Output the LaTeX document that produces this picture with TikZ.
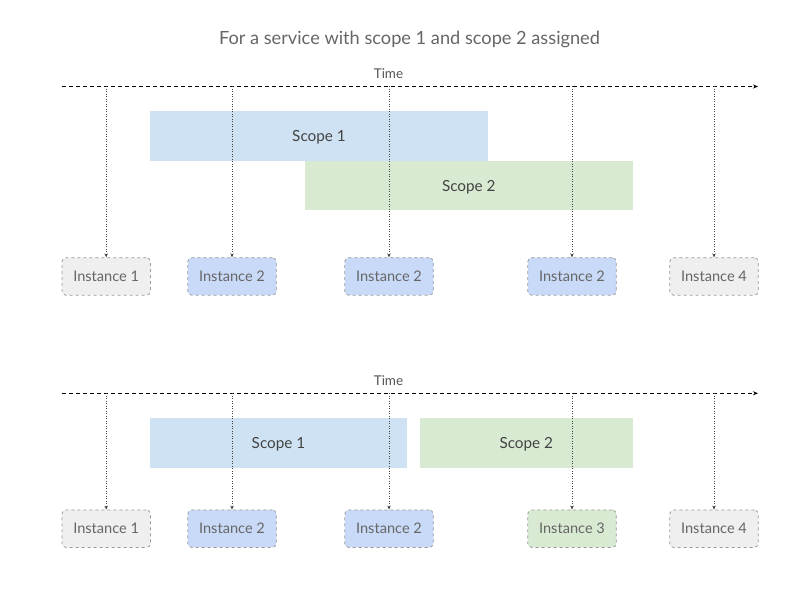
\documentclass[tikz,border=0pt]{standalone}
\usepackage{fontspec}
\setmainfont{Lato}
\usetikzlibrary{arrows.meta}
\definecolor{scopeblue}{HTML}{CFE2F3}
\definecolor{scopegreen}{HTML}{D9EAD3}
\definecolor{instblue}{HTML}{C9DAF8}
\definecolor{instgrey}{HTML}{EFEFEF}
\definecolor{instgreen}{HTML}{D9EAD3}
\definecolor{textgrey}{HTML}{666666}
\definecolor{darkgrey}{HTML}{434343}
\begin{document}
\begin{tikzpicture}[x=1pt,y=-1pt,
    axis/.style = {line width=0.8pt,dash pattern=on 4pt off 3pt,-{Stealth[length=5pt,width=4pt]}},
    tick/.style = {line width=0.6pt,darkgrey,dash pattern=on 1pt off 1.5pt,-{Stealth[length=4pt,width=3.5pt]}},
    inst/.style = {draw=black!40,dashed,line width=0.75pt,rounded corners=4pt,
                   minimum width=88.5pt,minimum height=37.5pt,inner sep=0pt,
                   text=textgrey,font=\fontsize{14.6}{17}\selectfont},
    scopebox/.style = {inner sep=0pt,minimum height=49.5pt,text depth=0pt,text=darkgrey,
                   font=\fontsize{15.3}{18}\selectfont},
    label/.style = {text=darkgrey!90,font=\fontsize{13.5}{16}\selectfont}]
    \useasboundingbox (0,0) rectangle (793,601);

    \node[text=textgrey,font=\fontsize{18.2}{21}\selectfont] (title) at (409.5,39) {For a service with scope 1 and scope 2 assigned};

    % first time line
    \coordinate (a1) at (62,86.5);
    \coordinate (b1) at (758,86.5);
    \node[label] (time1) at (388.5,73.5) {Time};
    \draw[axis] (a1) -- (b1);

    \node[scopebox,fill=scopeblue,minimum width=338pt] (sa1) at (319,135.8) {Scope 1};
    \node[scopebox,fill=scopegreen,minimum width=327.5pt] (sb1) at (468.8,185.5) {Scope 2};

    \node[inst,fill=instgrey] (i11) at (106.2,276.5) {Instance 1};
    \node[inst,fill=instblue] (i12) at (232,276.5) {Instance 2};
    \node[inst,fill=instblue] (i13) at (389,276.5) {Instance 2};
    \node[inst,fill=instblue] (i14) at (572,276.5) {Instance 2};
    \node[inst,fill=instgrey] (i15) at (714,276.5) {Instance 4};

    \draw[tick] (i11.north |- a1) -- (i11.north);
    \draw[tick] (i12.north |- a1) -- (i12.north);
    \draw[tick] (i13.north |- a1) -- (i13.north);
    \draw[tick] (i14.north |- a1) -- (i14.north);
    \draw[tick] (i15.north |- a1) -- (i15.north);

    % second time line
    \coordinate (a2) at (62,393.3);
    \coordinate (b2) at (758,393.3);
    \node[label] (time2) at (388.5,380.5) {Time};
    \draw[axis] (a2) -- (b2);

    \node[scopebox,fill=scopeblue,minimum width=257pt] (sa2) at (278.5,443) {Scope 1};
    \node[scopebox,fill=scopegreen,minimum width=212.7pt] (sb2) at (526.3,443) {Scope 2};

    \node[inst,fill=instgrey] (i21) at (106.2,528.7) {Instance 1};
    \node[inst,fill=instblue] (i22) at (232,528.7) {Instance 2};
    \node[inst,fill=instblue] (i23) at (389,528.7) {Instance 2};
    \node[inst,fill=instgreen] (i24) at (572,528.7) {Instance 3};
    \node[inst,fill=instgrey] (i25) at (714,528.7) {Instance 4};

    \draw[tick] (i21.north |- a2) -- (i21.north);
    \draw[tick] (i22.north |- a2) -- (i22.north);
    \draw[tick] (i23.north |- a2) -- (i23.north);
    \draw[tick] (i24.north |- a2) -- (i24.north);
    \draw[tick] (i25.north |- a2) -- (i25.north);
\end{tikzpicture}
\end{document}
